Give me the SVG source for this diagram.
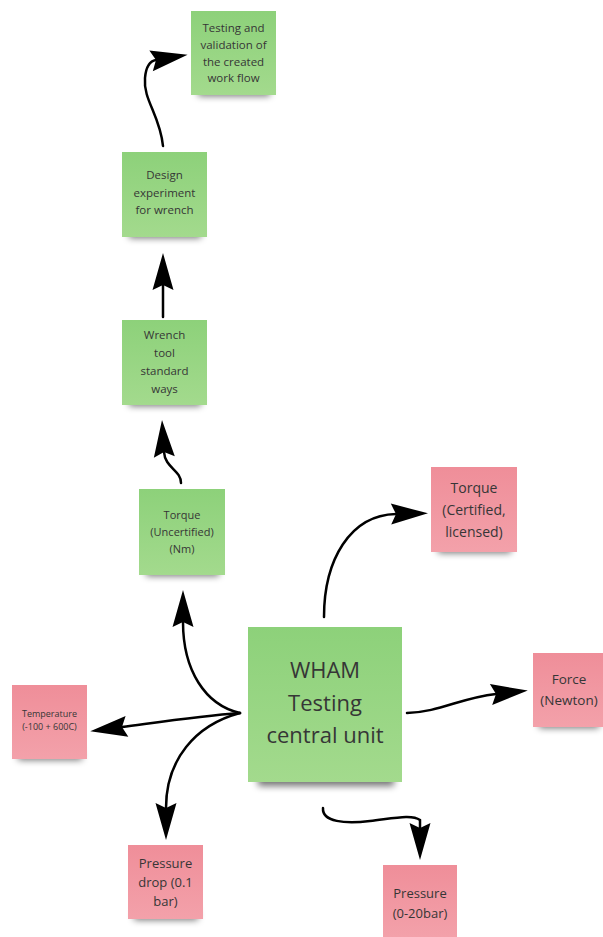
<svg xmlns="http://www.w3.org/2000/svg" width="603" height="937" viewBox="0 0 603 937">
<style>
.t{font-family:"Open Sans","Noto Sans","DejaVu Sans",sans-serif;fill:#363636;text-anchor:middle}
.c{fill:none;stroke:#000;stroke-width:2.5;stroke-linecap:round}
.g{fill:url(#gg)}
.p{fill:url(#gp)}
.s{fill:#000;opacity:0.55;filter:url(#blur)}
</style>
<defs>
<linearGradient id="gg" x1="0" y1="0" x2="0" y2="1"><stop offset="0" stop-color="#8dd17a"/><stop offset="1" stop-color="#a3da8d"/></linearGradient>
<linearGradient id="gp" x1="0" y1="0" x2="0" y2="1"><stop offset="0" stop-color="#ef8e99"/><stop offset="1" stop-color="#f3a1aa"/></linearGradient>
<filter id="blur" x="-30%" y="-100%" width="160%" height="300%"><feGaussianBlur stdDeviation="3.5"/></filter>
<marker id="ah" markerUnits="userSpaceOnUse" markerWidth="42" markerHeight="24" refX="5" refY="10.5" orient="auto" overflow="visible">
<path d="M0,0 L37,10.5 L0,21 L5,10.5 Z" fill="#000"/>
</marker>
</defs>

<g id="connectors">
<path class="c" marker-end="url(#ah)" d="M163,146 C160,115 143,100 145,78 C146,66 150,61 156,60"/>
<path class="c" marker-end="url(#ah)" d="M163,317 L163,285"/>
<path class="c" marker-end="url(#ah)" d="M181,483 C181,470 165,468 164,452"/>
<path class="c" marker-end="url(#ah)" d="M240,713 C205,705 183,670 183,622"/>
<path class="c" marker-end="url(#ah)" d="M240,713 C200,716 160,722 122,727"/>
<path class="c" marker-end="url(#ah)" d="M240,713 C195,725 166,760 166,808"/>
<path class="c" marker-end="url(#ah)" d="M324,617 C324,560 350,515 396,514"/>
<path class="c" marker-end="url(#ah)" d="M407,713 C440,712 460,698 496,694"/>
<path class="c" marker-end="url(#ah)" d="M323,808 C322,822 345,824 370,821 C395,818 412,814 420,820 C420,822 420,825 420,828"/>
</g>

<g id="n1">
<rect class="s" x="198" y="86" width="72" height="10"/>
<rect class="g" x="191" y="11" width="85" height="84"/>
<text class="t" font-size="11.5"><tspan x="233.5" y="32">Testing and</tspan><tspan x="233.5" y="49">validation of</tspan><tspan x="233.5" y="66">the created</tspan><tspan x="233.5" y="82">work flow</tspan></text>
</g>

<g id="n2">
<rect class="s" x="129" y="228" width="72" height="10"/>
<rect class="g" x="122" y="152" width="85" height="85"/>
<text class="t" font-size="11.5"><tspan x="164.5" y="179">Design</tspan><tspan x="164.5" y="196.5">experiment</tspan><tspan x="164.5" y="214">for wrench</tspan></text>
</g>

<g id="n3">
<rect class="s" x="129" y="396" width="72" height="10"/>
<rect class="g" x="122" y="320" width="85" height="85"/>
<text class="t" font-size="11.5"><tspan x="164.5" y="339">Wrench</tspan><tspan x="164.5" y="357">tool</tspan><tspan x="164.5" y="375">standard</tspan><tspan x="164.5" y="393">ways</tspan></text>
</g>

<g id="n4">
<rect class="s" x="146" y="566" width="73" height="10"/>
<rect class="g" x="139" y="489" width="86" height="86"/>
<text class="t" font-size="11"><tspan x="182" y="519">Torque</tspan><tspan x="182" y="536">(Uncertified)</tspan><tspan x="182" y="553">(Nm)</tspan></text>
</g>

<g id="center">
<rect class="s" x="258" y="770" width="136" height="16"/>
<rect class="g" x="248" y="627" width="154" height="155"/>
<text class="t" font-size="22"><tspan x="325" y="678">WHAM</tspan><tspan x="325" y="711">Testing</tspan><tspan x="325" y="743">central unit</tspan></text>
</g>

<g id="n5">
<rect class="s" x="438" y="543" width="73" height="10"/>
<rect class="p" x="431" y="467" width="86" height="85"/>
<text class="t" font-size="14"><tspan x="474" y="493">Torque</tspan><tspan x="474" y="515">(Certified,</tspan><tspan x="474" y="537">licensed)</tspan></text>
</g>

<g id="n6">
<rect class="s" x="539" y="718" width="60" height="10"/>
<rect class="p" x="533" y="653" width="72" height="74"/>
<text class="t" font-size="13.5"><tspan x="569" y="684">Force</tspan><tspan x="569" y="705">(Newton)</tspan></text>
</g>

<g id="n7">
<rect class="s" x="18" y="750" width="64" height="10"/>
<rect class="p" x="12" y="685" width="75" height="74"/>
<text class="t" font-size="9"><tspan x="49.5" y="717">Temperature</tspan><tspan x="49.5" y="730">(-100 + 600C)</tspan></text>
</g>

<g id="n8">
<rect class="s" x="134" y="910" width="64" height="10"/>
<rect class="p" x="128" y="845" width="75" height="74"/>
<text class="t" font-size="13"><tspan x="165.5" y="867.5">Pressure</tspan><tspan x="165.5" y="886.5">drop (0.1</tspan><tspan x="165.5" y="905.5">bar)</tspan></text>
</g>

<g id="n9">
<rect class="p" x="383" y="865" width="74" height="72"/>
<text class="t" font-size="13"><tspan x="420" y="897.5">Pressure</tspan><tspan x="420" y="917.5">(0-20bar)</tspan></text>
</g>
</svg>
